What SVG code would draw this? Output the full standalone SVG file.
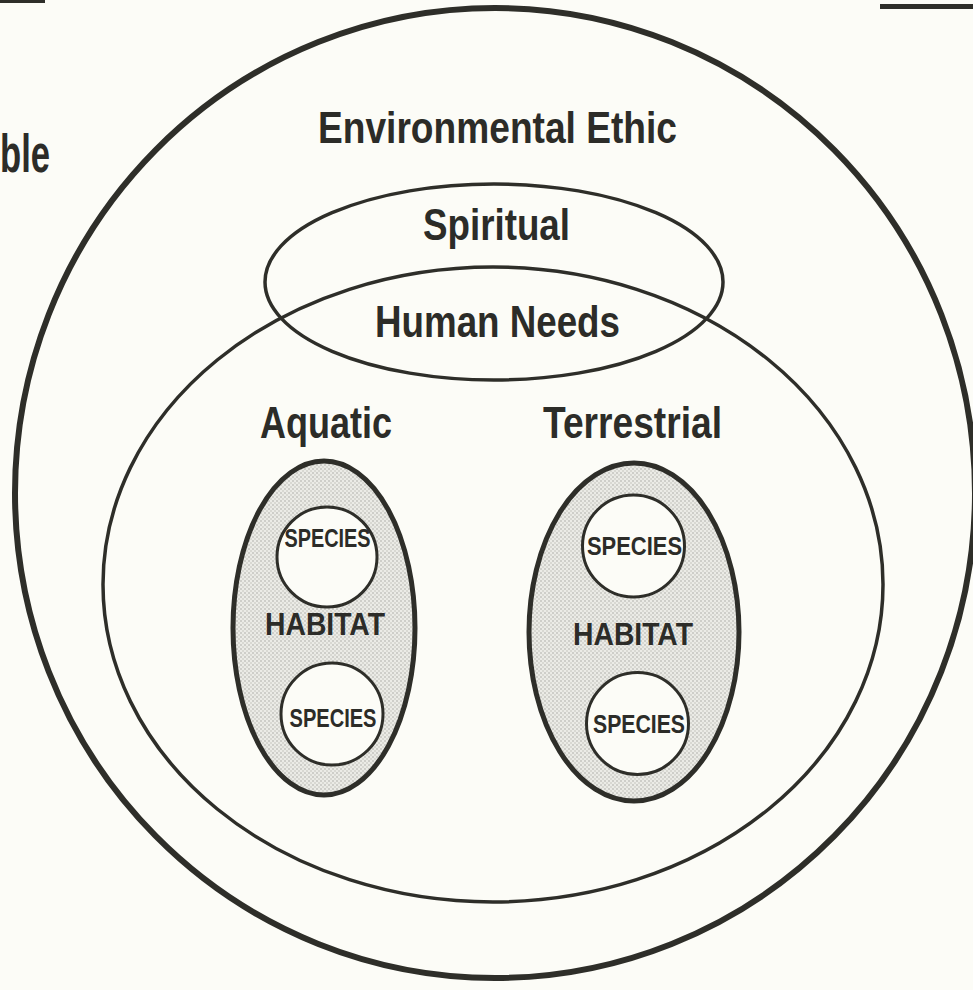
<svg xmlns="http://www.w3.org/2000/svg" width="973" height="990" viewBox="0 0 973 990">
  <defs>
    <pattern id="stipple" width="4" height="4" patternUnits="userSpaceOnUse">
      <rect width="4" height="4" fill="#ebebe6"/>
      <circle cx="1" cy="1" r="0.75" fill="#a4a49e"/>
      <circle cx="3" cy="3" r="0.75" fill="#bcbcb6"/>
    </pattern>
  </defs>
  <style>
    .bg { fill: #fcfcf7; }
    .ring { fill: none; stroke: #2e2e29; }
    .outer { stroke-width: 6; }
    .mid { stroke-width: 3.5; }
    .hab { fill: url(#stipple); stroke: #2e2e29; stroke-width: 5; }
    .sp { fill: #fcfcf7; stroke: #2e2e29; stroke-width: 3; }
    text { font-family: "Liberation Sans", Arial, Helvetica, sans-serif; font-weight: bold; fill: #2c2c28; text-anchor: middle; }
    .big { font-size: 44px; }
    .hb { font-size: 31px; }
    .spc { font-size: 25px; }
  </style>
  <rect class="bg" x="0" y="0" width="973" height="990"/>

  <!-- page fragments -->
  <g id="fragments">
    <rect x="0" y="0" width="45" height="3" fill="#2e2e29"/>
    <rect x="880" y="4" width="93" height="5" fill="#2e2e29"/>
    <text x="0" y="172" style="font-size:53px;text-anchor:start" textLength="50" lengthAdjust="spacingAndGlyphs">ble</text>
  </g>

  <g id="connectors"/>

  <g id="environmental-ethic">
    <ellipse class="ring outer" cx="495" cy="493" rx="480" ry="485"/>
    <text class="big" x="497.5" y="143" textLength="359" lengthAdjust="spacingAndGlyphs">Environmental Ethic</text>
  </g>

  <g id="human-needs">
    <ellipse class="ring mid" cx="493" cy="584.5" rx="390" ry="317.5"/>
    <text class="big" x="497.5" y="337" textLength="245" lengthAdjust="spacingAndGlyphs">Human Needs</text>
  </g>

  <g id="spiritual">
    <ellipse class="ring mid" cx="494" cy="282" rx="229" ry="98"/>
    <text class="big" x="496.5" y="240" textLength="147" lengthAdjust="spacingAndGlyphs">Spiritual</text>
  </g>

  <g id="aquatic">
    <text class="big" x="326" y="438" textLength="132" lengthAdjust="spacingAndGlyphs">Aquatic</text>
    <g id="aquatic-habitat">
      <ellipse class="hab" cx="324" cy="628" rx="91" ry="167"/>
      <text class="hb" x="325" y="635" textLength="120" lengthAdjust="spacingAndGlyphs">HABITAT</text>
    </g>
    <g id="aquatic-species-1">
      <circle class="sp" cx="327" cy="557" r="50"/>
      <text class="spc" x="327.5" y="547" textLength="86" lengthAdjust="spacingAndGlyphs">SPECIES</text>
    </g>
    <g id="aquatic-species-2">
      <circle class="sp" cx="332" cy="714" r="51"/>
      <text class="spc" x="333" y="727" textLength="87" lengthAdjust="spacingAndGlyphs">SPECIES</text>
    </g>
  </g>

  <g id="terrestrial">
    <text class="big" x="632.5" y="438" textLength="179" lengthAdjust="spacingAndGlyphs">Terrestrial</text>
    <g id="terrestrial-habitat">
      <ellipse class="hab" cx="634" cy="632" rx="105" ry="169"/>
      <text class="hb" x="633" y="645" textLength="120" lengthAdjust="spacingAndGlyphs">HABITAT</text>
    </g>
    <g id="terrestrial-species-1">
      <circle class="sp" cx="633.5" cy="546" r="51"/>
      <text class="spc" x="634.5" y="555" textLength="95" lengthAdjust="spacingAndGlyphs">SPECIES</text>
    </g>
    <g id="terrestrial-species-2">
      <circle class="sp" cx="637.5" cy="723.5" r="51"/>
      <text class="spc" x="639" y="733" textLength="92" lengthAdjust="spacingAndGlyphs">SPECIES</text>
    </g>
  </g>
</svg>
